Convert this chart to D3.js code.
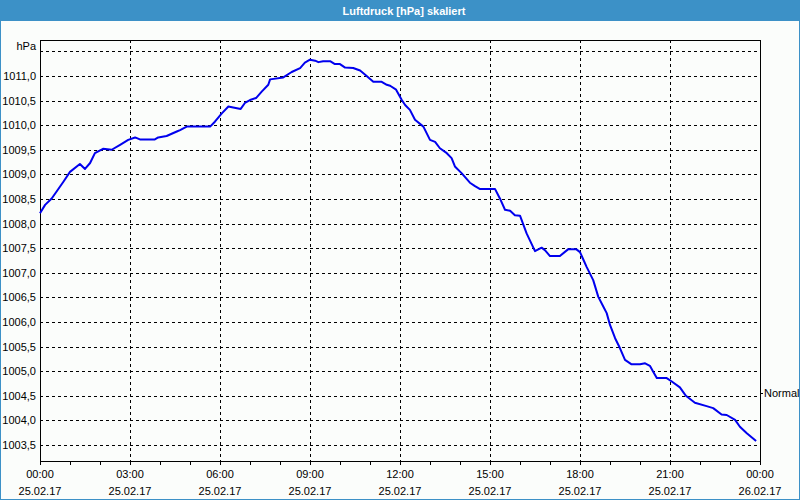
<!DOCTYPE html>
<html>
<head>
<meta charset="utf-8">
<script src="https://cdn.jsdelivr.net/npm/d3@7"></script>
<style>
  body { margin: 0; background: #fff; }
  svg { display: block; font-family: "Liberation Sans", Arial, sans-serif; }
</style>
</head>
<body>
<svg id="chart" width="800" height="500"></svg>
<script>
// Luftdruck 25.02.17, hours since midnight and hPa
const hours = [0, 0.17, 0.39, 0.78, 1.0, 1.33, 1.5, 1.67, 1.83, 2.1, 2.39, 2.67, 2.94, 3.17, 3.33, 3.83, 3.94,
  4.22, 4.56, 4.67, 4.89, 5.67, 5.83, 6.06, 6.28, 6.44, 6.69, 6.83, 7.0, 7.2, 7.39, 7.61, 7.67, 8.11, 8.39,
  8.67, 8.83, 9.0, 9.17, 9.28, 9.44, 9.67, 9.83, 10.0, 10.17, 10.44, 10.67, 10.83, 11.11, 11.39, 11.56, 11.67,
  11.87, 12.06, 12.17, 12.33, 12.5, 12.78, 13.0, 13.17, 13.33, 13.56, 13.72, 13.83, 14.06, 14.33, 14.5, 14.67,
  15.17, 15.33, 15.5, 15.67, 15.83, 16.0, 16.22, 16.5, 16.72, 16.83, 17.0, 17.33, 17.61, 17.87, 18.0, 18.11,
  18.22, 18.44, 18.61, 18.78, 18.89, 19.0, 19.17, 19.33, 19.5, 19.72, 20.0, 20.17, 20.33, 20.44, 20.56, 20.89,
  21.06, 21.33, 21.53, 21.83, 22.22, 22.44, 22.72, 22.89, 23.17, 23.33, 23.56, 23.87];
const pressure = [1008.21, 1008.38, 1008.51, 1008.85, 1009.05, 1009.21, 1009.11, 1009.23, 1009.43, 1009.52,
  1009.50, 1009.60, 1009.70, 1009.75, 1009.71, 1009.71, 1009.75, 1009.78, 1009.87, 1009.90, 1009.97, 1009.97,
  1010.07, 1010.24, 1010.38, 1010.36, 1010.33, 1010.45, 1010.51, 1010.55, 1010.68, 1010.82, 1010.93, 1010.97,
  1011.08, 1011.16, 1011.27, 1011.33, 1011.31, 1011.28, 1011.30, 1011.30, 1011.24, 1011.24, 1011.17, 1011.16,
  1011.11, 1011.03, 1010.88, 1010.88, 1010.82, 1010.80, 1010.72, 1010.51, 1010.41, 1010.31, 1010.11, 1009.97,
  1009.70, 1009.66, 1009.53, 1009.43, 1009.33, 1009.16, 1009.02, 1008.83, 1008.76, 1008.70, 1008.70, 1008.51,
  1008.28, 1008.26, 1008.17, 1008.16, 1007.80, 1007.44, 1007.51, 1007.46, 1007.34, 1007.34, 1007.48, 1007.48,
  1007.42, 1007.27, 1007.12, 1006.85, 1006.51, 1006.31, 1006.18, 1005.94, 1005.67, 1005.47, 1005.23, 1005.14,
  1005.14, 1005.16, 1005.11, 1004.99, 1004.86, 1004.86, 1004.79, 1004.67, 1004.50, 1004.36, 1004.29, 1004.25,
  1004.12, 1004.11, 1004.01, 1003.87, 1003.74, 1003.58];
const yTicks = [1003.5, 1004.0, 1004.5, 1005.0, 1005.5, 1006.0, 1006.5, 1007.0, 1007.5, 1008.0, 1008.5,
  1009.0, 1009.5, 1010.0, 1010.5, 1011.0];
const normalValue = 1004.56;
const title = "Luftdruck [hPa] skaliert";
const unit = "hPa";

const svg = d3.select("#chart");
const W = 800, H = 500;
const margin = {top: 40, right: 40, bottom: 39, left: 40};

const day0 = new Date(2017, 1, 25, 0, 0);
const day1 = new Date(2017, 1, 26, 0, 0);
const data = hours.map((h, i) => ({t: new Date(day0.getTime() + h * 3600e3), v: pressure[i]}));

const x = d3.scaleTime().domain([day0, day1]).range([margin.left, W - margin.right]);
const y = d3.scaleLinear().domain([1003.175, 1011.73]).range([H - margin.bottom, margin.top]);

// background + title bar
svg.append("rect").attr("width", W).attr("height", H).attr("fill", "#fbfdfb");
svg.append("rect").attr("width", W).attr("height", 21).attr("fill", "#3c91c7");
svg.append("rect").attr("x", 0.5).attr("y", 0.5).attr("width", W - 1).attr("height", H - 1)
  .attr("fill", "none").attr("stroke", "#3c91c7");
svg.append("text").attr("x", 404).attr("y", 14.5).attr("text-anchor", "middle")
  .attr("fill", "#fff").attr("font-weight", "bold").attr("font-size", 11).text(title);

const grid = svg.append("g").attr("stroke", "#000").attr("stroke-dasharray", "3,3")
  .attr("shape-rendering", "crispEdges");

// horizontal grid
grid.selectAll("line.h").data(yTicks.concat([1011.5])).join("line")
  .attr("x1", margin.left).attr("x2", W - margin.right)
  .attr("y1", d => Math.round(y(d)) + 0.5).attr("y2", d => Math.round(y(d)) + 0.5);

// vertical grid every 3 hours
const majors = x.ticks(d3.timeHour.every(3));
grid.selectAll("line.v").data(majors.slice(1, -1)).join("line")
  .attr("x1", d => Math.round(x(d)) + 0.5).attr("x2", d => Math.round(x(d)) + 0.5)
  .attr("y1", margin.top).attr("y2", H - margin.bottom);

// minor hourly ticks under the x axis
const xAxis = svg.append("g")
  .attr("transform", `translate(0,${H - margin.bottom + 0.5})`)
  .attr("shape-rendering", "crispEdges")
  .call(d3.axisBottom(x).ticks(d3.timeHour.every(1)).tickSize(3).tickFormat(""));
xAxis.select(".domain").remove();
xAxis.selectAll("line").attr("stroke", "#000");

// x labels
const fmtTime = d3.timeFormat("%H:%M"), fmtDate = d3.timeFormat("%d.%m.%y");
const xl = svg.append("g").attr("font-size", 11).attr("fill", "#000").attr("text-anchor", "middle");
majors.forEach(d => {
  const t = xl.append("text").attr("x", x(d)).attr("y", 478);
  t.append("tspan").attr("x", x(d)).text(fmtTime(d));
  t.append("tspan").attr("x", x(d)).attr("dy", 16.5).text(fmtDate(d));
});

// y axis labels
const fmtY = d => d3.format(".1f")(d).replace(".", ",");
const yAxis = svg.append("g").attr("transform", `translate(${margin.left},0)`)
  .call(d3.axisLeft(y).tickValues(yTicks).tickSize(0).tickPadding(4).tickFormat(fmtY));
yAxis.select(".domain").remove();
yAxis.selectAll("text").attr("font-size", 11).attr("fill", "#000")
  .attr("font-family", "Liberation Sans, Arial, sans-serif");
svg.append("text").attr("x", 36).attr("y", y(1011.5) - 1).attr("text-anchor", "end")
  .attr("font-size", 11).attr("fill", "#000").text(unit);

// frame
svg.append("rect").attr("x", margin.left + 0.5).attr("y", margin.top + 0.5)
  .attr("width", W - margin.left - margin.right).attr("height", H - margin.top - margin.bottom)
  .attr("fill", "none").attr("stroke", "#000").attr("shape-rendering", "crispEdges");

// Normal marker on the right axis
const ny = Math.round(y(normalValue)) + 0.5;
svg.append("line").attr("x1", W - margin.right).attr("x2", W - margin.right + 3)
  .attr("y1", ny).attr("y2", ny).attr("stroke", "#000").attr("shape-rendering", "crispEdges");
svg.append("text").attr("x", W - margin.right + 4).attr("y", ny).attr("dy", "0.35em")
  .attr("font-size", 11).attr("fill", "#000").text("Normal");

// pressure line
const line = d3.line().x(d => x(d.t)).y(d => y(d.v));
svg.append("path").datum(data)
  .attr("fill", "none")
  .attr("stroke", "#0000ee")
  .attr("stroke-width", 2)
  .attr("stroke-linejoin", "round")
  .attr("d", line);
</script>
</body>
</html>
